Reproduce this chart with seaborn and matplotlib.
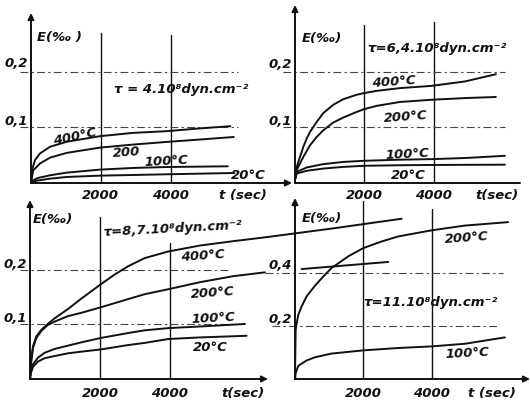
import matplotlib
matplotlib.use("Agg")
import matplotlib.pyplot as plt
import numpy as np
import pandas as pd
import seaborn as sns

# ---------------- creep curves: time t (sec) vs strain E (per mille) ----------------
# Panel A: tau = 4.10^8 dyn.cm^-2
a_t_400 = [0, 40, 114, 257, 543, 1019, 1971, 2924, 3876, 4829, 5714]
a_e_400 = [0, 0.026, 0.041, 0.053, 0.065, 0.074, 0.084, 0.090, 0.093, 0.098, 0.102]
a_t_200 = [0, 40, 67, 257, 543, 1019, 1971, 2924, 3876, 4829, 5810]
a_e_200 = [0, 0.015, 0.023, 0.035, 0.0455, 0.054, 0.0635, 0.069, 0.0737, 0.078, 0.0826]
a_t_100 = [0, 67, 200, 543, 1019, 1971, 2924, 3876, 5638]
a_e_100 = [0, 0.005, 0.009, 0.0138, 0.0186, 0.024, 0.027, 0.0287, 0.030]
a_t_20 = [0, 150, 543, 1019, 1971, 3876, 5829]
a_e_20 = [0, 0.004, 0.0078, 0.0108, 0.0132, 0.0156, 0.018]

# Panel B: tau = 6,4.10^8 dyn.cm^-2
b_t_400 = [0, 49, 144, 240, 337, 433, 626, 817, 1106, 1394, 1780, 1991, 2357, 3030,
           3942, 4904, 5798]
b_e_400 = [0.006, 0.029, 0.047, 0.065, 0.080, 0.092, 0.110, 0.126, 0.141, 0.151, 0.159,
           0.162, 0.166, 0.171, 0.175, 0.183, 0.196]
b_t_200 = [0, 49, 144, 240, 433, 626, 817, 1106, 1394, 1780, 1991, 2357, 3030, 3942,
           4904, 5798]
b_e_200 = [0.006, 0.023, 0.035, 0.047, 0.068, 0.083, 0.095, 0.109, 0.118, 0.128, 0.133,
           0.139, 0.146, 0.150, 0.153, 0.155]
b_t_100 = [0, 49, 337, 817, 1394, 1991, 3030, 3942, 4904, 6058]
b_e_100 = [0.006, 0.020, 0.028, 0.034, 0.038, 0.040, 0.042, 0.043, 0.045, 0.049]
b_t_20 = [0, 49, 337, 817, 1394, 1991, 3030, 3942, 6058]
b_e_20 = [0.006, 0.017, 0.022, 0.026, 0.029, 0.031, 0.032, 0.0325, 0.033]

# Panel C: tau = 8,7.10^8 dyn.cm^-2 (the two upper curves run on past the frame)
c_t_400 = [0, 19, 38, 86, 181, 324, 514, 705, 1086, 1467, 2019, 2419, 2800, 3276, 3943,
           4857, 5810, 6714, 8619, 10619]
c_e_400 = [0, 0.020, 0.036, 0.060, 0.078, 0.090, 0.101, 0.111, 0.128, 0.147, 0.173,
           0.191, 0.206, 0.221, 0.233, 0.244, 0.252, 0.259, 0.275, 0.293]
c_t_200 = [0, 19, 38, 86, 181, 324, 514, 705, 1086, 1467, 2019, 2800, 3276, 3943, 4857,
           5810, 6714]
c_e_200 = [0, 0.019, 0.034, 0.057, 0.075, 0.088, 0.099, 0.105, 0.115, 0.121, 0.131,
           0.146, 0.155, 0.164, 0.177, 0.188, 0.195]
c_t_200_tail = [7762, 10238]
c_e_200_tail = [0.201, 0.214]
c_t_100 = [0, 19, 86, 229, 419, 705, 1086, 1467, 2019, 2800, 3276, 3943, 4857, 6143]
c_e_100 = [0, 0.011, 0.027, 0.039, 0.048, 0.055, 0.061, 0.067, 0.075, 0.084, 0.089,
           0.093, 0.096, 0.1006]
c_t_20 = [0, 19, 86, 229, 419, 705, 1086, 1467, 2019, 2800, 3276, 3943, 4229, 4857, 6190]
c_e_20 = [0, 0.010, 0.022, 0.032, 0.038, 0.042, 0.047, 0.050, 0.054, 0.062, 0.066,
          0.073, 0.074, 0.076, 0.079]

# Panel D: tau = 11.10^8 dyn.cm^-2
d_t_200 = [0, 10, 20, 49, 98, 195, 341, 585, 829, 1073, 1561, 2000, 2537, 3024, 4000,
           4976, 6244]
d_e_200 = [0, 0.098, 0.186, 0.211, 0.243, 0.274, 0.312, 0.352, 0.387, 0.419, 0.463,
           0.494, 0.519, 0.538, 0.561, 0.579, 0.592]
d_t_100 = [0, 20, 98, 341, 585, 1073, 2000, 3024, 4000, 4976, 6146]
d_e_100 = [0, 0.0226, 0.050, 0.070, 0.082, 0.096, 0.108, 0.117, 0.123, 0.133, 0.157]

# Tick values and labels
x_ticks = [2000, 4000]
x_tick_labels = ["2000", "4000"]
y_ticks_abc = [0.1, 0.2]
y_tick_labels_abc = ["0,1", "0,2"]
y_ticks_d = [0.2, 0.4]
y_tick_labels_d = ["0,2", "0,4"]

stress_labels = ["τ = 4.10⁸dyn.cm⁻²", "τ=6,4.10⁸dyn.cm⁻²",
                 "τ=8,7.10⁸dyn.cm⁻²", "τ=11.10⁸dyn.cm⁻²"]


def frame(t_lists, e_lists, names):
    rows = []
    for t, e, n in zip(t_lists, e_lists, names):
        rows.append(pd.DataFrame({"t": t, "E": e, "curve": n}))
    return pd.concat(rows, ignore_index=True)


df_a = frame([a_t_400, a_t_200, a_t_100, a_t_20], [a_e_400, a_e_200, a_e_100, a_e_20],
             ["400", "200", "100", "20"])
df_b = frame([b_t_400, b_t_200, b_t_100, b_t_20], [b_e_400, b_e_200, b_e_100, b_e_20],
             ["400", "200", "100", "20"])
df_c = frame([c_t_400, c_t_200, c_t_200_tail, c_t_100, c_t_20],
             [c_e_400, c_e_200, c_e_200_tail, c_e_100, c_e_20],
             ["400", "200", "200b", "100", "20"])
df_d = frame([d_t_200, d_t_100], [d_e_200, d_e_100], ["200", "100"])

sns.set_style("white")
plt.rcParams["font.family"] = ["DejaVu Sans"]

W, H = 530, 403
fig = plt.figure(figsize=(W / 100, H / 100), dpi=100)
fig.patch.set_facecolor("white")

INK = "#111111"
TXT = dict(color=INK, fontstyle="italic", fontweight="bold", fontsize=9.5)


def make_axes(ox, oy, tip_x, tip_y, px_per_2000, px_per_unit, head=True):
    ax = fig.add_axes([ox / W, (H - oy) / H, (tip_x - ox) / W, (oy - tip_y) / H])
    ax.set_xlim(0, (tip_x - ox) / px_per_2000 * 2000)
    ax.set_ylim(0, (oy - tip_y) / px_per_unit)
    ax.set_axis_off()
    ax.annotate("", xy=(1, 0), xytext=(0, 0), xycoords="axes fraction",
                arrowprops=dict(arrowstyle="-|>" if head else "-", color=INK, lw=1.4,
                                mutation_scale=9, shrinkA=0, shrinkB=0))
    ax.annotate("", xy=(0, 1), xytext=(0, 0), xycoords="axes fraction",
                arrowprops=dict(arrowstyle="-|>", color=INK, lw=1.4,
                                mutation_scale=9, shrinkA=0, shrinkB=0))
    return ax


def guides(ax, vtops, hspans, yvals):
    for xv, top in zip(x_ticks, vtops):
        ax.plot([xv, xv], [0, top], color=INK, lw=1.0, clip_on=False)
    for yv, (x0, x1) in zip(yvals, hspans):
        ax.plot([x0, x1], [yv, yv], color="#444444", lw=0.8, ls=(0, (7, 3, 2, 3)),
                clip_on=False)


def curves(ax, df):
    sns.lineplot(data=df, x="t", y="E", units="curve", estimator=None, sort=False,
                 color=INK, lw=1.4, ax=ax, legend=False)
    for ln in ax.lines:
        ln.set_clip_on(False)
        ln.set_solid_capstyle("round")
        ln.set_solid_joinstyle("round")


def ticklabels(ax, ylabels_pos, ylabels, xlab_y, tsec_x, tsec_text, elab_pos, elab):
    for xv, lab in zip(x_ticks, x_tick_labels):
        ax.text(xv, xlab_y, lab, ha="center", va="center", **TXT)
    ax.text(tsec_x, xlab_y, tsec_text, ha="center", va="center", **TXT)
    for (xp, yp), lab in zip(ylabels_pos, ylabels):
        ax.text(xp, yp, lab, ha="center", va="center", **TXT)
    ax.text(elab_pos[0], elab_pos[1], elab, ha="left", va="center", **TXT)


# ---- Panel A ----
axA = make_axes(31, 183, 292, 13, 69.8, 557)
guides(axA, [0.269, 0.265], [(-314, 5943), (-314, 5943)], y_ticks_abc)
curves(axA, df_a)
ticklabels(axA, [(-430, 0.110), (-430, 0.215)], y_tick_labels_abc, -0.023, 6074,
           "t (sec)", (172, 0.262), "E(‰ )")
axA.text(4298, 0.167, stress_labels[0], ha="center", va="center", **TXT)
axA.text(1261, 0.083, "400°C", ha="center", va="center", rotation=12, **TXT)
axA.text(2722, 0.055, "200", ha="center", va="center", rotation=4, **TXT)
axA.text(3868, 0.038, "100°C", ha="center", va="center", rotation=3, **TXT)
axA.text(6218, 0.014, "20°C", ha="center", va="center", **TXT)

# ---- Panel B ----
axB = make_axes(295, 183, 520, 5, 69.3, 555, head=False)
guides(axB, [0.284, 0.29], [(-346, 6061), (-346, 6061)], y_ticks_abc)
curves(axB, df_b)
ticklabels(axB, [(-433, 0.110), (-433, 0.213)], y_tick_labels_abc, -0.023, 5830,
           "t(sec)", (202, 0.261), "E(‰)")
axB.text(2078, 0.243, stress_labels[1], ha="left", va="center", **TXT)
axB.text(2857, 0.182, "400°C", ha="center", va="center", rotation=4, **TXT)
axB.text(3203, 0.119, "200°C", ha="center", va="center", rotation=4, **TXT)
axB.text(3232, 0.052, "100°C", ha="center", va="center", rotation=3, **TXT)
axB.text(3261, 0.014, "20°C", ha="center", va="center", **TXT)

# ---- Panel C ----
axC = make_axes(30, 379, 268, 200, 70.0, 547)
guides(axC, [0.297, 0.249], [(-286, 5714), (-286, 5714)], y_ticks_abc)
curves(axC, df_c)
ticklabels(axC, [(-429, 0.110), (-429, 0.210)], y_tick_labels_abc, -0.027, 6086,
           "t(sec)", (86, 0.291), "E(‰)")
axC.text(2086, 0.274, stress_labels[2], ha="left", va="center", rotation=3, **TXT)
axC.text(4943, 0.225, "400°C", ha="center", va="center", rotation=4, **TXT)
axC.text(5229, 0.157, "200°C", ha="center", va="center", rotation=4, **TXT)
axC.text(5229, 0.111, "100°C", ha="center", va="center", rotation=3, **TXT)
axC.text(5143, 0.057, "20°C", ha="center", va="center", **TXT)

# ---- Panel D ----
axD = make_axes(295, 379, 530, 198, 68.3, 265)
guides(axD, [0.67, 0.64], [(-673, 5944), (-878, 6090)], y_ticks_d)
curves(axD, df_d)
ticklabels(axD, [(-439, 0.226), (-439, 0.430)], y_tick_labels_d, -0.054, 5769,
           "t (sec)", (205, 0.604), "E(‰)")
axD.text(3953, 0.287, stress_labels[3], ha="center", va="center", **TXT)
axD.text(5037, 0.532, "200°C", ha="center", va="center", rotation=4, **TXT)
axD.text(5037, 0.098, "100°C", ha="center", va="center", rotation=3, **TXT)

fig.savefig("out.png", dpi=100, facecolor="white")
